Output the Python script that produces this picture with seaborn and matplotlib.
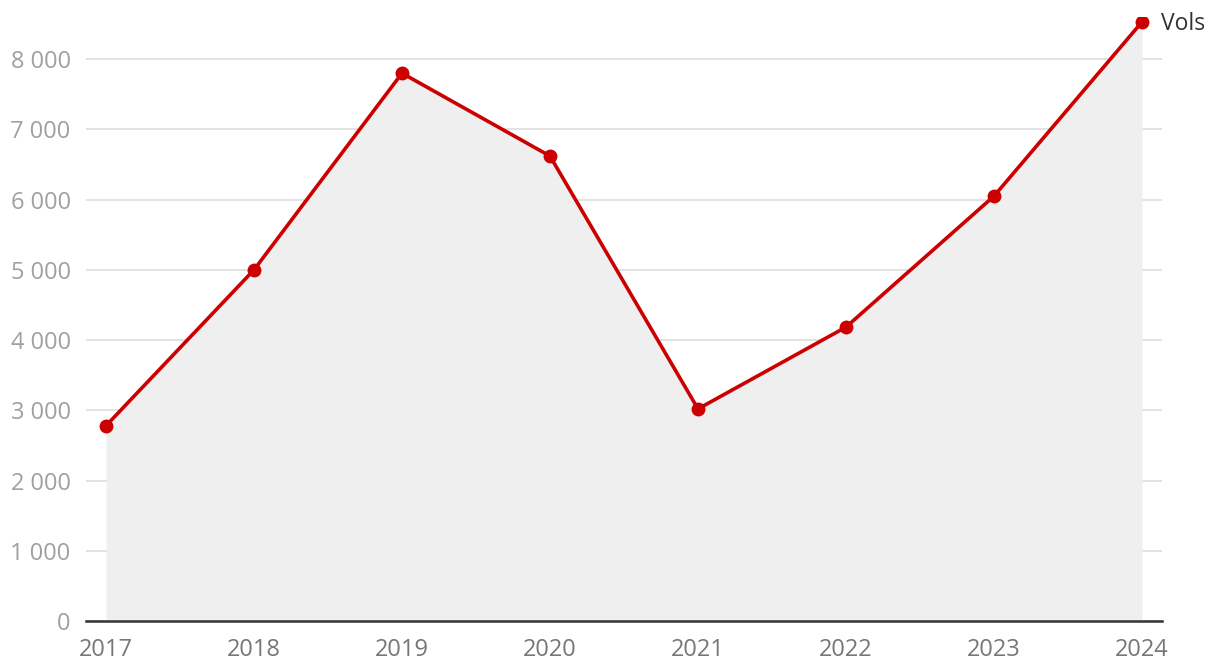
import matplotlib
matplotlib.use("Agg")
import matplotlib.pyplot as plt
import pandas as pd
import seaborn as sns
from matplotlib.ticker import FuncFormatter, MultipleLocator

years = [2017, 2018, 2019, 2020, 2021, 2022, 2023, 2024]
vols = [2780, 5000, 7800, 6620, 3020, 4185, 6050, 8530]
series_label = "Vols"

LINE_RED = "#cc0000"
FILL_GREY = "#efefef"

sns.set_theme(style="white")
plt.rcParams["font.family"] = ["Open Sans", "DejaVu Sans"]

df = pd.DataFrame({"year": years, "vols": vols})

fig = plt.figure(figsize=(12.2, 6.72), dpi=100)
ax = fig.add_axes([86 / 1220, 1 - 621 / 672, (1162 - 86) / 1220, (621 - 17) / 672])

ax.fill_between(df["year"], df["vols"], 0, color=FILL_GREY, linewidth=0, zorder=1)
sns.lineplot(
    data=df, x="year", y="vols", ax=ax, color=LINE_RED, linewidth=2.6,
    marker="o", markersize=10, markeredgewidth=0, zorder=3,
)

last = df.iloc[-1]
ax.annotate(series_label, (last["year"], last["vols"]), xytext=(14, -1.5),
            textcoords="offset points", va="center", ha="left",
            fontsize=16.5, color="#333333", annotation_clip=False)

ax.set_xlim(2017 - 20 / 148, 2024 + 20 / 148)
ax.set_ylim(0, 8600)
ax.yaxis.set_major_locator(MultipleLocator(1000))
ax.yaxis.set_major_formatter(FuncFormatter(lambda v, _: f"{int(v):,}".replace(",", " ")))
ax.set_xticks(years)
ax.grid(True, axis="y", color="#e2e2e2", linewidth=1.4, zorder=0)
ax.set_axisbelow(True)

for side in ("top", "right", "left"):
    ax.spines[side].set_visible(False)
ax.spines["bottom"].set_color("#333333")
ax.spines["bottom"].set_linewidth(1.8)
ax.spines["bottom"].set_zorder(4)

ax.tick_params(axis="y", length=0, pad=11, labelsize=17, labelcolor="#a0a0a0")
ax.tick_params(axis="x", length=0, pad=12, labelsize=17, labelcolor="#777777")
ax.set_xlabel("")
ax.set_ylabel("")

fig.savefig("out.png", dpi=100)
